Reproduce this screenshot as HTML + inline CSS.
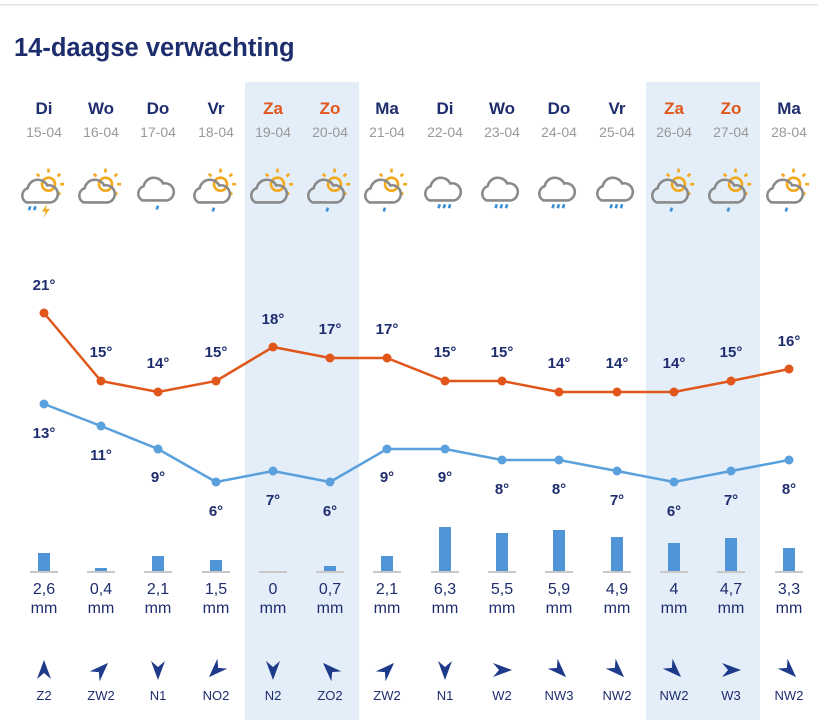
<!DOCTYPE html>
<html><head><meta charset="utf-8"><style>
html,body{margin:0;padding:0;background:#fff;}
svg{display:block;font-family:"Liberation Sans",sans-serif;}
</style></head><body>
<svg width="832" height="720" viewBox="0 0 832 720" xmlns="http://www.w3.org/2000/svg">
<defs>
<g id="cloud"><path d="M-12,8 a6,6 0 0 1 1,-11 a8,8 0 0 1 15,-2 a6,6 0 0 1 3,13 Z" fill="none" stroke="#8a8a8a" stroke-width="2"/></g>
<g id="sun"><circle cx="5" cy="-6" r="5" fill="none" stroke="#f2a91c" stroke-width="2"/><g stroke="#f2a91c" stroke-width="2"><line x1="5" y1="-15" x2="5" y2="-18"/><line x1="12" y1="-12" x2="14" y2="-14"/><line x1="14" y1="-6" x2="17" y2="-6"/><line x1="12" y1="0" x2="14" y2="2"/><line x1="-2" y1="-12" x2="-4" y2="-14"/></g></g>
<g id="drop"><line x1="0" y1="0" x2="-1" y2="3" stroke="#3a8fd6" stroke-width="2"/></g>
<path id="arr" d="M0,-10 L7,9 L0,3 L-7,9 Z" fill="#1e3a8a"/>
</defs>
<rect x="0" y="4" width="818" height="1.5" fill="#e2e2e2"/>
<rect x="245" y="82" width="114" height="638" fill="#e3eef9"/>
<rect x="646" y="82" width="114" height="638" fill="#e3eef9"/>
<text x="14" y="56" font-size="25.5" font-weight="bold" fill="#1e2d6e">14-daagse verwachting</text>
<g font-size="17" font-weight="bold" text-anchor="middle" fill="#1e2d6e">
<text x="44" y="114">Di</text><text x="101" y="114">Wo</text><text x="158" y="114">Do</text><text x="216" y="114">Vr</text>
<text x="273" y="114" fill="#e0561b">Za</text><text x="330" y="114" fill="#e0561b">Zo</text>
<text x="387" y="114">Ma</text><text x="445" y="114">Di</text><text x="502" y="114">Wo</text><text x="559" y="114">Do</text><text x="617" y="114">Vr</text>
<text x="674" y="114" fill="#e0561b">Za</text><text x="731" y="114" fill="#e0561b">Zo</text><text x="789" y="114">Ma</text>
</g>
<g font-size="14" text-anchor="middle" fill="#999">
<text x="44" y="137">15-04</text><text x="101" y="137">16-04</text><text x="158" y="137">17-04</text><text x="216" y="137">18-04</text>
<text x="273" y="137">19-04</text><text x="330" y="137">20-04</text><text x="387" y="137">21-04</text><text x="445" y="137">22-04</text>
<text x="502" y="137">23-04</text><text x="559" y="137">24-04</text><text x="617" y="137">25-04</text><text x="674" y="137">26-04</text>
<text x="731" y="137">27-04</text><text x="789" y="137">28-04</text>
</g>
<!-- icons -->
<g transform="translate(42,192) scale(1.3)"><use href="#sun"/><use href="#cloud"/><use href="#drop" x="-9" y="11"/><use href="#drop" x="-5" y="11"/><path d="M4,9 L0,15 L3,15 L1,20 L6,13 L3,13 Z" fill="#f2a91c"/></g>
<g transform="translate(99,192) scale(1.3)"><use href="#sun"/><use href="#cloud"/></g>
<g transform="translate(158,190) scale(1.3)"><use href="#cloud"/><use href="#drop" x="0" y="12"/></g>
<g transform="translate(214,192) scale(1.3)"><use href="#sun"/><use href="#cloud"/><use href="#drop" x="0" y="12"/></g>
<g transform="translate(271,192) scale(1.3)"><use href="#sun"/><use href="#cloud"/></g>
<g transform="translate(328,192) scale(1.3)"><use href="#sun"/><use href="#cloud"/><use href="#drop" x="0" y="12"/></g>
<g transform="translate(385,192) scale(1.3)"><use href="#sun"/><use href="#cloud"/><use href="#drop" x="0" y="12"/></g>
<g transform="translate(445,190) scale(1.3)"><use href="#cloud"/><use href="#drop" x="-4" y="11"/><use href="#drop" x="0" y="11"/><use href="#drop" x="4" y="11"/></g>
<g transform="translate(502,190) scale(1.3)"><use href="#cloud"/><use href="#drop" x="-4" y="11"/><use href="#drop" x="0" y="11"/><use href="#drop" x="4" y="11"/></g>
<g transform="translate(559,190) scale(1.3)"><use href="#cloud"/><use href="#drop" x="-4" y="11"/><use href="#drop" x="0" y="11"/><use href="#drop" x="4" y="11"/></g>
<g transform="translate(617,190) scale(1.3)"><use href="#cloud"/><use href="#drop" x="-4" y="11"/><use href="#drop" x="0" y="11"/><use href="#drop" x="4" y="11"/></g>
<g transform="translate(672,192) scale(1.3)"><use href="#sun"/><use href="#cloud"/><use href="#drop" x="0" y="12"/></g>
<g transform="translate(729,192) scale(1.3)"><use href="#sun"/><use href="#cloud"/><use href="#drop" x="0" y="12"/></g>
<g transform="translate(787,192) scale(1.3)"><use href="#sun"/><use href="#cloud"/><use href="#drop" x="0" y="12"/></g>
<!-- lines -->
<polyline fill="none" stroke="#e0561b" stroke-width="2.5" points="44,313 101,381 158,392 216,381 273,347 330,358 387,358 445,381 502,381 559,392 617,392 674,392 731,381 789,369"/>
<g fill="#e0561b"><circle cx="44" cy="313" r="4.5"/><circle cx="101" cy="381" r="4.5"/><circle cx="158" cy="392" r="4.5"/><circle cx="216" cy="381" r="4.5"/><circle cx="273" cy="347" r="4.5"/><circle cx="330" cy="358" r="4.5"/><circle cx="387" cy="358" r="4.5"/><circle cx="445" cy="381" r="4.5"/><circle cx="502" cy="381" r="4.5"/><circle cx="559" cy="392" r="4.5"/><circle cx="617" cy="392" r="4.5"/><circle cx="674" cy="392" r="4.5"/><circle cx="731" cy="381" r="4.5"/><circle cx="789" cy="369" r="4.5"/></g>
<polyline fill="none" stroke="#5aa0dc" stroke-width="2.5" points="44,404 101,426 158,449 216,482 273,471 330,482 387,449 445,449 502,460 559,460 617,471 674,482 731,471 789,460"/>
<g fill="#5aa0dc"><circle cx="44" cy="404" r="4.5"/><circle cx="101" cy="426" r="4.5"/><circle cx="158" cy="449" r="4.5"/><circle cx="216" cy="482" r="4.5"/><circle cx="273" cy="471" r="4.5"/><circle cx="330" cy="482" r="4.5"/><circle cx="387" cy="449" r="4.5"/><circle cx="445" cy="449" r="4.5"/><circle cx="502" cy="460" r="4.5"/><circle cx="559" cy="460" r="4.5"/><circle cx="617" cy="471" r="4.5"/><circle cx="674" cy="482" r="4.5"/><circle cx="731" cy="471" r="4.5"/><circle cx="789" cy="460" r="4.5"/></g>
<g font-size="15" font-weight="bold" text-anchor="middle" fill="#1e2d6e">
<text x="44" y="290">21°</text><text x="101" y="357">15°</text><text x="158" y="368">14°</text><text x="216" y="357">15°</text>
<text x="273" y="324">18°</text><text x="330" y="334">17°</text><text x="387" y="334">17°</text><text x="445" y="357">15°</text>
<text x="502" y="357">15°</text><text x="559" y="368">14°</text><text x="617" y="368">14°</text><text x="674" y="368">14°</text>
<text x="731" y="357">15°</text><text x="789" y="346">16°</text>
<text x="44" y="438">13°</text><text x="101" y="460">11°</text><text x="158" y="482">9°</text><text x="216" y="516">6°</text>
<text x="273" y="505">7°</text><text x="330" y="516">6°</text><text x="387" y="482">9°</text><text x="445" y="482">9°</text>
<text x="502" y="494">8°</text><text x="559" y="494">8°</text><text x="617" y="505">7°</text><text x="674" y="516">6°</text>
<text x="731" y="505">7°</text><text x="789" y="494">8°</text>
</g>
<!-- bars -->
<g fill="#c8c8c8">
<rect x="30" y="571" width="28" height="2"/><rect x="87" y="571" width="28" height="2"/><rect x="144" y="571" width="28" height="2"/><rect x="202" y="571" width="28" height="2"/><rect x="259" y="571" width="28" height="2"/><rect x="316" y="571" width="28" height="2"/><rect x="373" y="571" width="28" height="2"/><rect x="431" y="571" width="28" height="2"/><rect x="488" y="571" width="28" height="2"/><rect x="545" y="571" width="28" height="2"/><rect x="603" y="571" width="28" height="2"/><rect x="660" y="571" width="28" height="2"/><rect x="717" y="571" width="28" height="2"/><rect x="775" y="571" width="28" height="2"/>
</g>
<g fill="#4f95d8">
<rect x="38" y="553" width="12" height="18"/><rect x="95" y="568" width="12" height="3"/><rect x="152" y="556" width="12" height="15"/><rect x="210" y="560" width="12" height="11"/>
<rect x="324" y="566" width="12" height="5"/><rect x="381" y="556" width="12" height="15"/><rect x="439" y="527" width="12" height="44"/><rect x="496" y="533" width="12" height="38"/>
<rect x="553" y="530" width="12" height="41"/><rect x="611" y="537" width="12" height="34"/><rect x="668" y="543" width="12" height="28"/><rect x="725" y="538" width="12" height="33"/><rect x="783" y="548" width="12" height="23"/>
</g>
<g font-size="16" text-anchor="middle" fill="#1e2d6e">
<text x="44" y="594">2,6</text><text x="101" y="594">0,4</text><text x="158" y="594">2,1</text><text x="216" y="594">1,5</text><text x="273" y="594">0</text><text x="330" y="594">0,7</text><text x="387" y="594">2,1</text><text x="445" y="594">6,3</text><text x="502" y="594">5,5</text><text x="559" y="594">5,9</text><text x="617" y="594">4,9</text><text x="674" y="594">4</text><text x="731" y="594">4,7</text><text x="789" y="594">3,3</text>
<text x="44" y="613">mm</text><text x="101" y="613">mm</text><text x="158" y="613">mm</text><text x="216" y="613">mm</text><text x="273" y="613">mm</text><text x="330" y="613">mm</text><text x="387" y="613">mm</text><text x="445" y="613">mm</text><text x="502" y="613">mm</text><text x="559" y="613">mm</text><text x="617" y="613">mm</text><text x="674" y="613">mm</text><text x="731" y="613">mm</text><text x="789" y="613">mm</text>
</g>
<!-- wind -->
<use href="#arr" transform="translate(44,670)"/>
<use href="#arr" transform="translate(101,670) rotate(45)"/>
<use href="#arr" transform="translate(158,670) rotate(180)"/>
<use href="#arr" transform="translate(216,670) rotate(225)"/>
<use href="#arr" transform="translate(273,670) rotate(180)"/>
<use href="#arr" transform="translate(330,670) rotate(315)"/>
<use href="#arr" transform="translate(387,670) rotate(45)"/>
<use href="#arr" transform="translate(445,670) rotate(180)"/>
<use href="#arr" transform="translate(502,670) rotate(90)"/>
<use href="#arr" transform="translate(559,670) rotate(135)"/>
<use href="#arr" transform="translate(617,670) rotate(135)"/>
<use href="#arr" transform="translate(674,670) rotate(135)"/>
<use href="#arr" transform="translate(731,670) rotate(90)"/>
<use href="#arr" transform="translate(789,670) rotate(135)"/>
<g font-size="13" text-anchor="middle" fill="#1e2d6e">
<text x="44" y="700">Z2</text><text x="101" y="700">ZW2</text><text x="158" y="700">N1</text><text x="216" y="700">NO2</text><text x="273" y="700">N2</text><text x="330" y="700">ZO2</text><text x="387" y="700">ZW2</text><text x="445" y="700">N1</text><text x="502" y="700">W2</text><text x="559" y="700">NW3</text><text x="617" y="700">NW2</text><text x="674" y="700">NW2</text><text x="731" y="700">W3</text><text x="789" y="700">NW2</text>
</g>
</svg>
</body></html>
